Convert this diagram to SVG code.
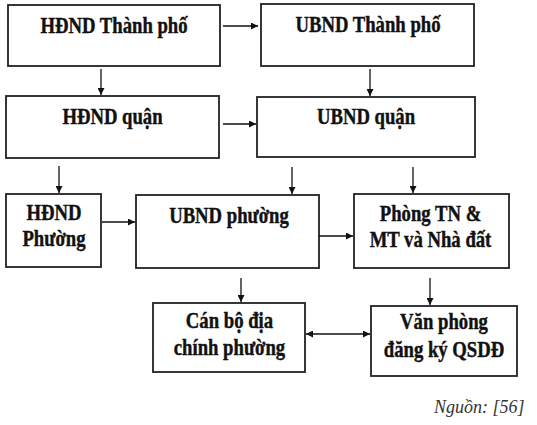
<svg xmlns="http://www.w3.org/2000/svg" width="537" height="425" viewBox="0 0 537 425">
<style>
.box{fill:#fff;stroke:#222;stroke-width:1.8}
.lbl{font-family:"Liberation Serif","Times New Roman",serif;font-weight:bold;font-size:18.7px;fill:#111;stroke:#111;stroke-width:0.35;text-anchor:middle}
.src{font-family:"Liberation Serif","Times New Roman",serif;font-style:italic;font-size:18px;fill:#333}
.conn line{stroke:#111;stroke-width:1.3}
</style>
<defs>
<marker id="ah" viewBox="0 0 10 10" refX="10" refY="5" markerWidth="8" markerHeight="7" markerUnits="userSpaceOnUse" orient="auto-start-reverse">
<path d="M0,0 L10,5 L0,10 z" fill="#111"/>
</marker>
</defs>
<rect width="537" height="425" fill="#fff"/>
<g id="n1"><rect class="box" x="8" y="5" width="212" height="61"/><text class="lbl" transform="translate(114,32.5) scale(1,1.25)">HĐND Thành phố</text></g>
<g id="n2"><rect class="box" x="261" y="4" width="213" height="62"/><text class="lbl" transform="translate(368,31.7) scale(1,1.25)">UBND Thành phố</text></g>
<g id="n3"><rect class="box" x="6" y="96" width="213" height="62"/><text class="lbl" transform="translate(112.5,124) scale(1,1.25)">HĐND quận</text></g>
<g id="n4"><rect class="box" x="257" y="97" width="218" height="60"/><text class="lbl" transform="translate(366,124) scale(1,1.25)">UBND quận</text></g>
<g id="n5"><rect class="box" x="6" y="194" width="95" height="73"/><text class="lbl" transform="translate(54,220) scale(1,1.25)"><tspan x="0" y="0">HĐND</tspan><tspan x="0" dy="21.2">Phường</tspan></text></g>
<g id="n6"><rect class="box" x="136" y="195" width="183" height="73"/><text class="lbl" transform="translate(229,222.7) scale(1,1.25)">UBND phường</text></g>
<g id="n7"><rect class="box" x="354" y="194" width="155" height="74"/><text class="lbl" transform="translate(430.5,220.7) scale(1,1.25)"><tspan x="0" y="0">Phòng TN &amp;</tspan><tspan x="0" dy="21.2">MT và Nhà đất</tspan></text></g>
<g id="n8"><rect class="box" x="153" y="303" width="152" height="69"/><text class="lbl" transform="translate(229.5,327.7) scale(1,1.25)"><tspan x="0" y="0">Cán bộ địa</tspan><tspan x="0" dy="21.8">chính phường</tspan></text></g>
<g id="n9"><rect class="box" x="371" y="306" width="146" height="70"/><text class="lbl" transform="translate(444,329) scale(1,1.25)"><tspan x="0" y="0">Văn phòng</tspan><tspan x="0" dy="22.2">đăng ký QSDĐ</tspan></text></g>
<g id="connectors" class="conn">
<line x1="223" y1="26" x2="258" y2="26" marker-end="url(#ah)"/>
<line x1="101" y1="69" x2="101" y2="95" marker-end="url(#ah)"/>
<line x1="370" y1="69" x2="370" y2="96" marker-end="url(#ah)"/>
<line x1="223" y1="124" x2="256" y2="124" marker-end="url(#ah)"/>
<line x1="59" y1="166" x2="59" y2="193" marker-end="url(#ah)"/>
<line x1="292" y1="167" x2="292" y2="194" marker-end="url(#ah)"/>
<line x1="413" y1="167" x2="413" y2="193" marker-end="url(#ah)"/>
<line x1="102" y1="222" x2="135" y2="222" marker-end="url(#ah)"/>
<line x1="319" y1="236" x2="353" y2="236" marker-end="url(#ah)"/>
<line x1="241" y1="278" x2="241" y2="302" marker-end="url(#ah)"/>
<line x1="430" y1="278" x2="430" y2="305" marker-end="url(#ah)"/>
<line x1="306" y1="334" x2="370" y2="334" marker-start="url(#ah)" marker-end="url(#ah)"/>
</g>
<text class="src" x="434" y="413">Nguồn: [56]</text>
</svg>
